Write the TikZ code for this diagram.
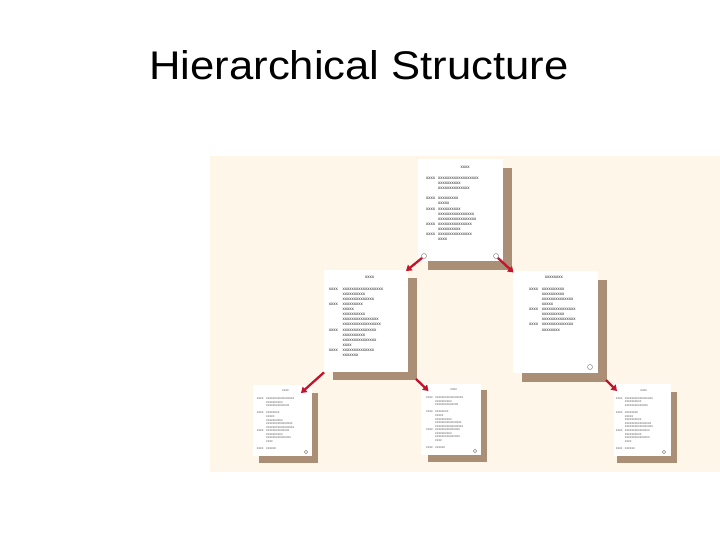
\documentclass[tikz,border=0pt]{standalone}
\usepackage{fontspec}
\usepackage{graphicx}
\setmainfont{Liberation Sans}
\usetikzlibrary{arrows.meta,calc}
\definecolor{cream}{RGB}{254,246,233}
\definecolor{shadowbrown}{RGB}{170,143,118}
\definecolor{arrowred}{RGB}{193,20,45}
\ExplSyntaxOn
\NewDocumentCommand\Xrun{m}{\prg_replicate:nn{#1}{x}}
\ExplSyntaxOff
\newcommand{\doctext}[2]{\begin{tabular}[t]{@{}l@{\hspace{#1}}l@{}}#2\end{tabular}}
\tikzset{
  page/.style={fill=white, draw=none, anchor=north west, inner sep=0},
  pshadow/.style={fill=shadowbrown},
  hole/.style={circle, draw=black!45, fill=white, inner sep=0, line width=0.5pt},
  link/.style={draw=arrowred, line width=2.3pt, -{Triangle[length=5.5pt,width=7pt]}},
  bigtxt/.style={anchor=base west, inner sep=0, text=black!85, font=\fontsize{4.5}{5.1}\selectfont},
  smalltxt/.style={anchor=base west, inner sep=0, text=black!65, font=\fontsize{3.3}{3.58}\selectfont},
  bigtitle/.style={anchor=base, inner sep=0, text=black!85, font=\fontsize{4.5}{5.1}\selectfont},
  smalltitle/.style={anchor=base, inner sep=0, text=black!65, font=\fontsize{3.3}{3.58}\selectfont},
}
\begin{document}
\begin{tikzpicture}[x=1pt,y=-1pt]
\useasboundingbox (0,0) rectangle (720,540);
\fill[white] (0,0) rectangle (720,540);
\fill[cream] (210,156) rectangle (720,472);

\node[anchor=base west, inner sep=0, font=\fontsize{40}{48}\selectfont] (title) at (149.2,80)
  {\scalebox{1.09}[1]{Hierarchical Structure}};

% ---------- pages ----------
\node[page, minimum width=85, minimum height=102] (top) at (418,159) {};
\node[page, minimum width=84, minimum height=102] (ml) at (324,270) {};
\node[page, minimum width=85, minimum height=102] (mr) at (513,271) {};
\node[page, minimum width=59, minimum height=71] (bl) at (253,385) {};
\node[page, minimum width=60, minimum height=71] (bm) at (421,384) {};
\node[page, minimum width=57, minimum height=72] (br) at (614,384) {};

% shadows
\fill[pshadow] ($(top.north west)+(10,9)$) rectangle ($(top.south east)+(9,9)$);
\fill[pshadow] ($(ml.north west)+(9,8)$) rectangle ($(ml.south east)+(9,8)$);
\fill[pshadow] ($(mr.north west)+(9,9)$) rectangle ($(mr.south east)+(9,9)$);
\fill[pshadow] ($(bl.north west)+(6,8)$) rectangle ($(bl.south east)+(6,7)$);
\fill[pshadow] ($(bm.north west)+(7,6)$) rectangle ($(bm.south east)+(6,7)$);
\fill[pshadow] ($(br.north west)+(3,8)$) rectangle ($(br.south east)+(6,7)$);
% pages over their shadows
\fill[white] (top.north west) rectangle (top.south east);
\fill[white] (ml.north west) rectangle (ml.south east);
\fill[white] (mr.north west) rectangle (mr.south east);
\fill[white] (bl.north west) rectangle (bl.south east);
\fill[white] (bm.north west) rectangle (bm.south east);
\fill[white] (br.north west) rectangle (br.south east);

% ---------- texts ----------
\node[bigtitle] (toptitle) at (465,168.5) {\Xrun{4}};
\node[bigtxt] (toptext) at (426,179.5) {\doctext{3pt}{%
\Xrun{4} & \Xrun{18}\\
 & \Xrun{10}\\
 & \Xrun{14}\\
 & \\
\Xrun{4} & \Xrun{9}\\
 & \Xrun{5}\\
\Xrun{4} & \Xrun{10}\\
 & \Xrun{16}\\
 & \Xrun{17}\\
\Xrun{4} & \Xrun{15}\\
 & \Xrun{10}\\
\Xrun{4} & \Xrun{15}\\
 & \Xrun{4}}};

\node[bigtitle] (mltitle) at (369.5,278.9) {\Xrun{4}};
\node[bigtxt] (mltext) at (328.7,290.2) {\doctext{4.6pt}{%
\Xrun{4} & \Xrun{18}\\
 & \Xrun{10}\\
 & \Xrun{14}\\
\Xrun{4} & \Xrun{9}\\
 & \Xrun{5}\\
 & \Xrun{10}\\
 & \Xrun{16}\\
 & \Xrun{17}\\
\Xrun{4} & \Xrun{15}\\
 & \Xrun{10}\\
 & \Xrun{15}\\
 & \Xrun{4}\\
\Xrun{4} & \Xrun{14}\\
 & \Xrun{7}}};

\node[bigtitle] (mrtitle) at (553.8,278.9) {\Xrun{8}};
\node[bigtxt] (mrtext) at (529,290.2) {\doctext{3.7pt}{%
\Xrun{4} & \Xrun{10}\\
 & \Xrun{10}\\
 & \Xrun{14}\\
 & \Xrun{5}\\
\Xrun{4} & \Xrun{15}\\
 & \Xrun{10}\\
 & \Xrun{15}\\
\Xrun{4} & \Xrun{14}\\
 & \Xrun{8}}};

\node[smalltitle] (bltitle) at (285.5,391.9) {\Xrun{4}};
\node[smalltxt] (bltext) at (256.7,399.6) {\doctext{2.7pt}{%
\Xrun{4} & \Xrun{17}\\
 & \Xrun{10}\\
 & \Xrun{14}\\
 & \\
\Xrun{4} & \Xrun{8}\\
 & \Xrun{5}\\
 & \Xrun{10}\\
 & \Xrun{16}\\
 & \Xrun{17}\\
\Xrun{4} & \Xrun{14}\\
 & \Xrun{10}\\
 & \Xrun{15}\\
 & \Xrun{4}\\
 & \\
\Xrun{4} & \Xrun{6}}};

\node[smalltitle] (bmtitle) at (453.7,390.9) {\Xrun{4}};
\node[smalltxt] (bmtext) at (426,398.6) {\doctext{2.4pt}{%
\Xrun{4} & \Xrun{17}\\
 & \Xrun{10}\\
 & \Xrun{14}\\
 & \\
\Xrun{4} & \Xrun{8}\\
 & \Xrun{5}\\
 & \Xrun{10}\\
 & \Xrun{16}\\
 & \Xrun{17}\\
\Xrun{4} & \Xrun{15}\\
 & \Xrun{10}\\
 & \Xrun{15}\\
 & \Xrun{4}\\
 & \\
\Xrun{4} & \Xrun{6}}};

\node[smalltitle] (brtitle) at (643.7,391.6) {\Xrun{4}};
\node[smalltxt] (brtext) at (615.7,399.2) {\doctext{2.4pt}{%
\Xrun{4} & \Xrun{17}\\
 & \Xrun{10}\\
 & \Xrun{14}\\
 & \\
\Xrun{4} & \Xrun{8}\\
 & \Xrun{5}\\
 & \Xrun{10}\\
 & \Xrun{16}\\
 & \Xrun{17}\\
\Xrun{4} & \Xrun{15}\\
 & \Xrun{10}\\
 & \Xrun{15}\\
 & \Xrun{4}\\
 & \\
\Xrun{4} & \Xrun{6}}};

% ---------- holes ----------
\node[hole, minimum size=5] (h1) at (424,256) {};
\node[hole, minimum size=5] (h2) at (496,256) {};
\node[hole, minimum size=5] (h3) at (590,367) {};
\node[hole, minimum size=3.6] (h4) at (306,452) {};
\node[hole, minimum size=3.6] (h5) at (475,451) {};
\node[hole, minimum size=3.6] (h6) at (664,452) {};

% ---------- arrows ----------
\coordinate (a1e) at (406,271);
\coordinate (a2e) at (513.5,272.5);
\coordinate (a3e) at (301,393);
\coordinate (a4s) at (416,379);
\coordinate (a4e) at (428.5,391);
\coordinate (a5s) at (606,380);
\coordinate (a5e) at (617,391);
\draw[link] (h1.south west) -- (a1e);
\draw[link] (h2.south east) -- (a2e);
\draw[link] (ml.south west) -- (a3e);
\draw[link] (a4s) -- (a4e);
\draw[link] (a5s) -- (a5e);
\end{tikzpicture}
\end{document}
